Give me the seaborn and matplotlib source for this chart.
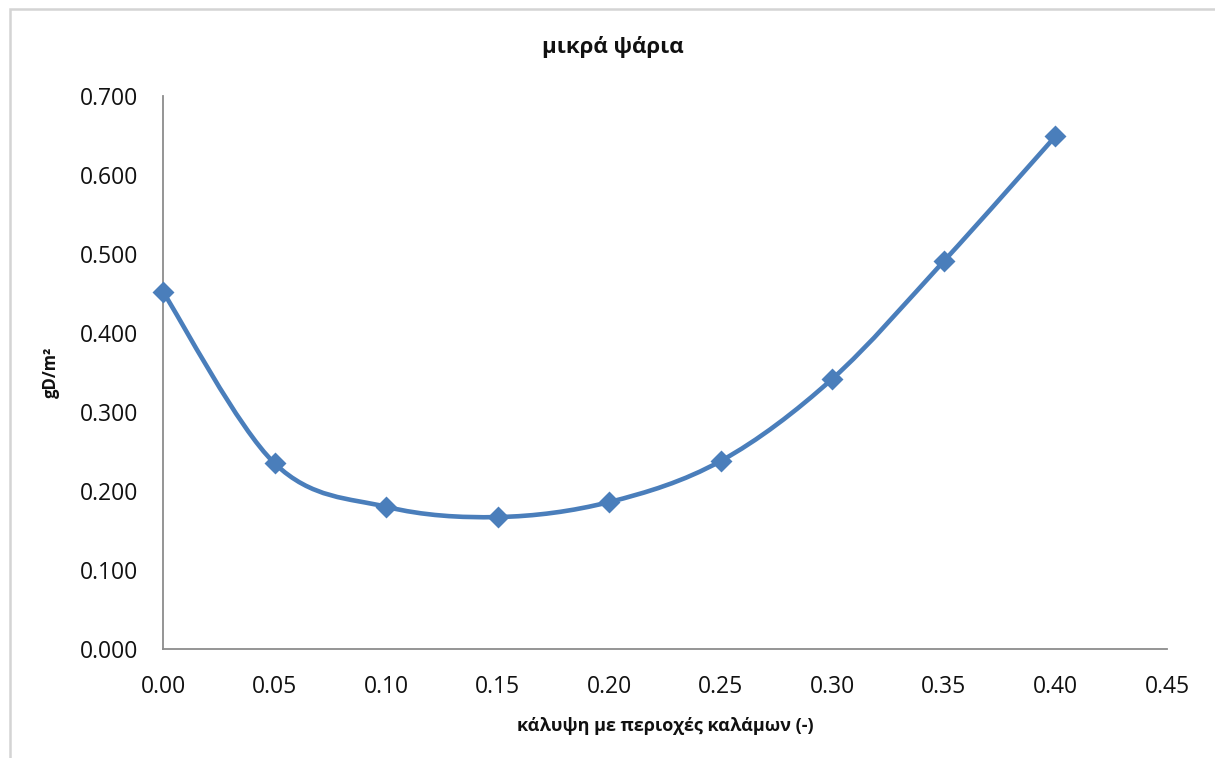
import numpy as np
import matplotlib
matplotlib.use("Agg")
import matplotlib.pyplot as plt
from matplotlib.path import Path
from matplotlib.patches import PathPatch, Rectangle
import seaborn as sns

# data
coverage = [0.00, 0.05, 0.10, 0.15, 0.20, 0.25, 0.30, 0.35, 0.40]
gd_m2 = [0.452, 0.235, 0.180, 0.167, 0.186, 0.238, 0.342, 0.491, 0.649]
x_ticks = [0.00, 0.05, 0.10, 0.15, 0.20, 0.25, 0.30, 0.35, 0.40, 0.45]
y_ticks = [0.0, 0.1, 0.2, 0.3, 0.4, 0.5, 0.6, 0.7]

title = 'μικρά ψάρια'
xlabel = 'κάλυψη με περιοχές καλάμων (-)'
ylabel = 'gD/m²'

blue = '#4a7ebb'

sns.set_theme(style='white')
plt.rcParams['font.family'] = ['Open Sans', 'DejaVu Sans']

fig = plt.figure(figsize=(12.15, 7.58), dpi=100)
ax = fig.add_axes([0.1342, 0.1438, 0.8263, 0.7296])


def smooth_path(xs, ys):
    # excel-like smoothed line: catmull-rom segments as cubic bezier
    pts = np.column_stack([xs, ys])
    verts = [pts[0]]
    codes = [Path.MOVETO]
    n = len(pts)
    for i in range(n - 1):
        p0 = pts[i - 1] if i > 0 else pts[i]
        p1 = pts[i]
        p2 = pts[i + 1]
        p3 = pts[i + 2] if i + 2 < n else pts[i + 1]
        c1 = p1 + (p2 - p0) / 6.0
        c2 = p2 - (p3 - p1) / 6.0
        verts += [c1, c2, p2]
        codes += [Path.CURVE4] * 3
    return Path(verts, codes)


ax.add_patch(PathPatch(smooth_path(coverage, gd_m2), facecolor='none',
                       edgecolor=blue, lw=3.3, capstyle='round', zorder=2))
sns.scatterplot(x=coverage, y=gd_m2, marker='D', s=125, color=blue,
                edgecolor=blue, linewidth=0, ax=ax, zorder=3, clip_on=False)

ax.set_xlim(0, 0.45)
ax.set_ylim(0, 0.7)
ax.set_xticks(x_ticks)
ax.set_yticks(y_ticks)
ax.set_xticklabels([f'{v:.2f}' for v in x_ticks])
ax.set_yticklabels([f'{v:.3f}' for v in y_ticks])
ax.tick_params(axis='both', length=0, labelsize=16.5, colors='#111111')
ax.tick_params(axis='x', pad=19)
ax.tick_params(axis='y', pad=18)

for side in ['top', 'right']:
    ax.spines[side].set_visible(False)
for side in ['left', 'bottom']:
    ax.spines[side].set_color('#8c8c8c')
    ax.spines[side].set_linewidth(1.3)

ax.set_xlabel(xlabel, fontsize=13, fontweight='bold', labelpad=13, color='#111111')
ax.set_ylabel(ylabel, fontsize=12, fontweight='bold', labelpad=14, color='#111111')
fig.text(0.5045, 0.938, title, ha='center', va='center', fontsize=16,
         fontweight='bold', color='#111111')

# light chart-area frame like the spreadsheet export
fig.patches.append(Rectangle((0.0082, -0.1), 1.2, 1.0875, transform=fig.transFigure,
                             fill=False, edgecolor='#d4d4d4', lw=1.8))

fig.savefig('out.png', dpi=100)
